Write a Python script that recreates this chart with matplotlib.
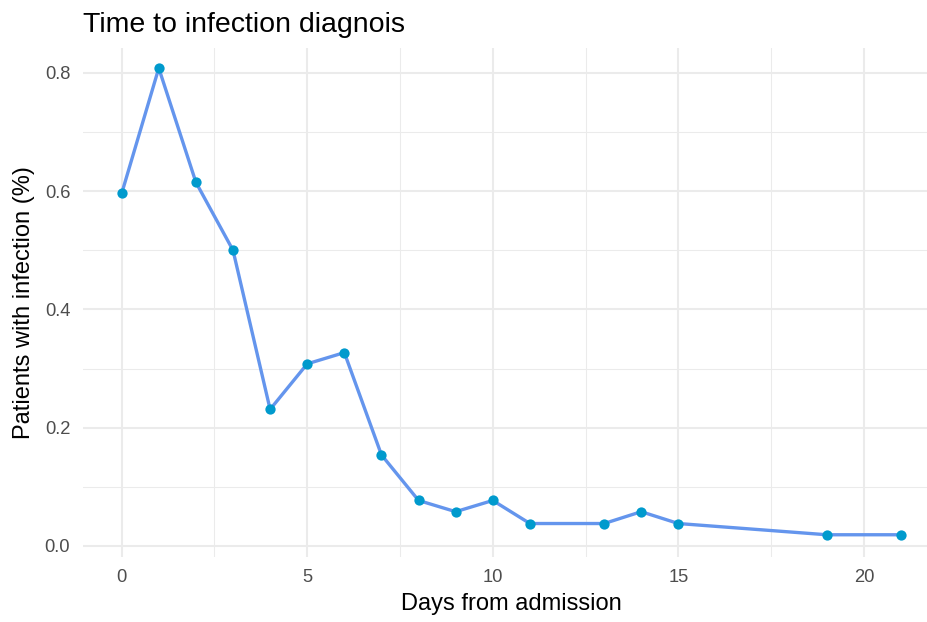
import numpy as np
import matplotlib
matplotlib.use("Agg")
from matplotlib import pyplot as plt
from matplotlib.ticker import MultipleLocator

# Days from admission and share of patients diagnosed that day
days = [0, 1, 2, 3, 4, 5, 6, 7, 8, 9, 10, 11, 13, 14, 15, 19, 21]
share = [0.596, 0.808, 0.615, 0.500, 0.231, 0.308, 0.327, 0.154,
         0.077, 0.058, 0.077, 0.038, 0.038, 0.058, 0.038, 0.019, 0.019]

title = "Time to infection diagnois"
xlabel = "Days from admission"
ylabel = "Patients with infection (%)"

plt.rcParams['font.family'] = ['Liberation Sans', 'DejaVu Sans']

W, H = 928, 622
fig = plt.figure(figsize=(W / 100, H / 100), dpi=100)
# panel in pixel coords (ggplot-like, right side runs off the image)
left, right, top, bottom = 82.7, 940, 48, 557
ax = fig.add_axes([left / W, 1 - bottom / H, (right - left) / W, (bottom - top) / H])

ax.plot(days, share, color="#6495ED", lw=2.4, zorder=2)
ax.plot(days, share, "o", color="#009ACD", ms=7.4, mec="none", zorder=3)

ax.set_xlim(-1.05, 22.05)
ax.set_ylim(-0.0186, 0.842)
ax.xaxis.set_major_locator(MultipleLocator(5))
ax.xaxis.set_minor_locator(MultipleLocator(2.5))
ax.yaxis.set_major_locator(MultipleLocator(0.2))
ax.yaxis.set_minor_locator(MultipleLocator(0.1))
ax.yaxis.set_major_formatter(matplotlib.ticker.FormatStrFormatter("%.1f"))

ax.grid(which="major", color="#EBEBEB", lw=1.5)
ax.grid(which="minor", color="#EBEBEB", lw=0.75)
ax.set_axisbelow(True)
for s in ax.spines.values():
    s.set_visible(False)
ax.tick_params(which="both", length=0, labelsize=13.2, labelcolor="#4D4D4D", pad=9)

ax.set_xlabel(xlabel, fontsize=17, color="black", labelpad=5)
ax.set_ylabel(ylabel, fontsize=17, color="black", labelpad=7)
fig.text(left / W, 1 - 32 / H, title, fontsize=20.5, ha="left", va="baseline")

fig.savefig("out.png", dpi=100)
